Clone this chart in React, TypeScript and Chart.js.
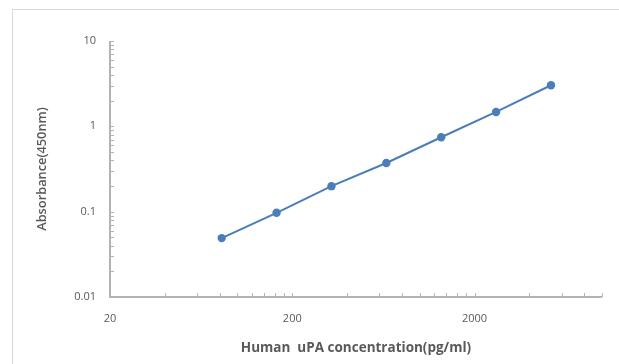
import React, { useEffect, useRef } from "react";
import { Chart, registerables } from "chart.js";

Chart.register(...registerables);

const concentrations = [82, 164, 328, 656, 1312, 2625, 5250];
const absorbance = [0.049, 0.097, 0.199, 0.372, 0.745, 1.475, 3.03];
const xTickValues = [20, 40, 60, 80, 100, 120, 140, 160, 180, 200, 400, 600, 800, 1000, 1200, 1400, 1600, 1800, 2000, 4000, 6000, 8000, 10000];
const xLabelValues = [20, 200, 2000];
const yTickValues = [
  0.01, 0.02, 0.03, 0.04, 0.05, 0.06, 0.07, 0.08, 0.09,
  0.1, 0.2, 0.3, 0.4, 0.5, 0.6, 0.7, 0.8, 0.9,
  1, 2, 3, 4, 5, 6, 7, 8, 9, 10,
];
const yLabelValues = [0.01, 0.1, 1, 10];

const TEXT = "#595959";
const AXIS = "#b3b3b3";
const FONT = "'Open Sans', 'Liberation Sans', sans-serif";

const insideTicks = {
  id: "insideTicks",
  afterDraw(chart: any) {
    const ctx = chart.ctx;
    const xs = chart.scales.x;
    const ys = chart.scales.y;
    const area = chart.chartArea;
    ctx.save();
    ctx.strokeStyle = AXIS;
    ctx.lineWidth = 1;
    ctx.beginPath();
    for (const v of xTickValues) {
      const px = Math.round(xs.getPixelForValue(v)) + 0.5;
      ctx.moveTo(px, area.bottom);
      ctx.lineTo(px, area.bottom - 4);
    }
    for (const v of yTickValues) {
      const py = Math.round(ys.getPixelForValue(v)) + 0.5;
      ctx.moveTo(area.left, py);
      ctx.lineTo(area.left + 4, py);
    }
    ctx.stroke();
    ctx.lineWidth = 2;
    ctx.beginPath();
    ctx.moveTo(area.left, area.top);
    ctx.lineTo(area.left, area.bottom);
    ctx.lineTo(area.right, area.bottom);
    ctx.stroke();
    ctx.restore();
  },
};

export default function App() {
  const ref = useRef<HTMLCanvasElement | null>(null);
  useEffect(() => {
    if (!ref.current) return;
    const chart = new Chart(ref.current, {
      type: "line",
      data: {
        datasets: [
          {
            data: concentrations.map((c, i) => ({ x: c, y: absorbance[i] })),
            borderColor: "#4a7ebb",
            backgroundColor: "#4a7ebb",
            borderWidth: 2,
            pointRadius: 4.2,
            pointHoverRadius: 4.2,
            pointBorderWidth: 0,
            tension: 0,
          },
        ],
      },
      options: {
        animation: false,
        responsive: false,
        events: [],
        layout: { padding: { left: 29, right: 17, top: 41, bottom: 4 } },
        plugins: { legend: { display: false }, tooltip: { enabled: false } },
        scales: {
          x: {
            type: "logarithmic",
            min: 20,
            max: 10000,
            afterBuildTicks: (s: any) => {
              s.ticks = xTickValues.map((v) => ({ value: v }));
            },
            afterFit: (s: any) => {
              s.height = 63;
            },
            grid: { display: false, drawTicks: false },
            border: { display: false },
            ticks: {
              autoSkip: false,
              maxRotation: 0,
              padding: 15,
              color: TEXT,
              font: { family: FONT, size: 11 },
              callback: (v: any) => (xLabelValues.includes(Number(v)) ? String(v) : ""),
            },
            title: {
              display: true,
              text: "Human  uPA concentration(pg/ml)",
              color: TEXT,
              font: { family: FONT, size: 13.5, weight: "bold" },
              padding: { top: 2, bottom: 4 },
            },
          },
          y: {
            type: "logarithmic",
            min: 0.01,
            max: 10,
            afterBuildTicks: (s: any) => {
              s.ticks = yTickValues.map((v) => ({ value: v }));
            },
            afterFit: (s: any) => {
              s.width = 81;
            },
            grid: { display: false, drawTicks: false },
            border: { display: false },
            ticks: {
              autoSkip: false,
              padding: 14,
              color: TEXT,
              font: { family: FONT, size: 11 },
              callback: (v: any) => (yLabelValues.some((l) => Math.abs(l - Number(v)) < 1e-9) ? String(Number(v)) : ""),
            },
            title: {
              display: true,
              text: "Absorbance(450nm)",
              color: TEXT,
              font: { family: FONT, size: 12.8, weight: "600" },
              padding: { top: 6, bottom: 4 },
            },
          },
        },
      },
      plugins: [insideTicks],
    } as any);
    return () => chart.destroy();
  }, []);
  return (
    <div style={{ position: "fixed", left: 0, top: 0, width: 619, height: 364, overflow: "hidden", background: "#fff" }}>
      <div style={{ position: "absolute", left: 12, top: 9, width: 700, height: 500, border: "1px solid #d9d9d9" }} />
      <canvas ref={ref} width={619} height={364} style={{ position: "absolute", left: 0, top: 0, width: 619, height: 364 }} />
    </div>
  );
}
